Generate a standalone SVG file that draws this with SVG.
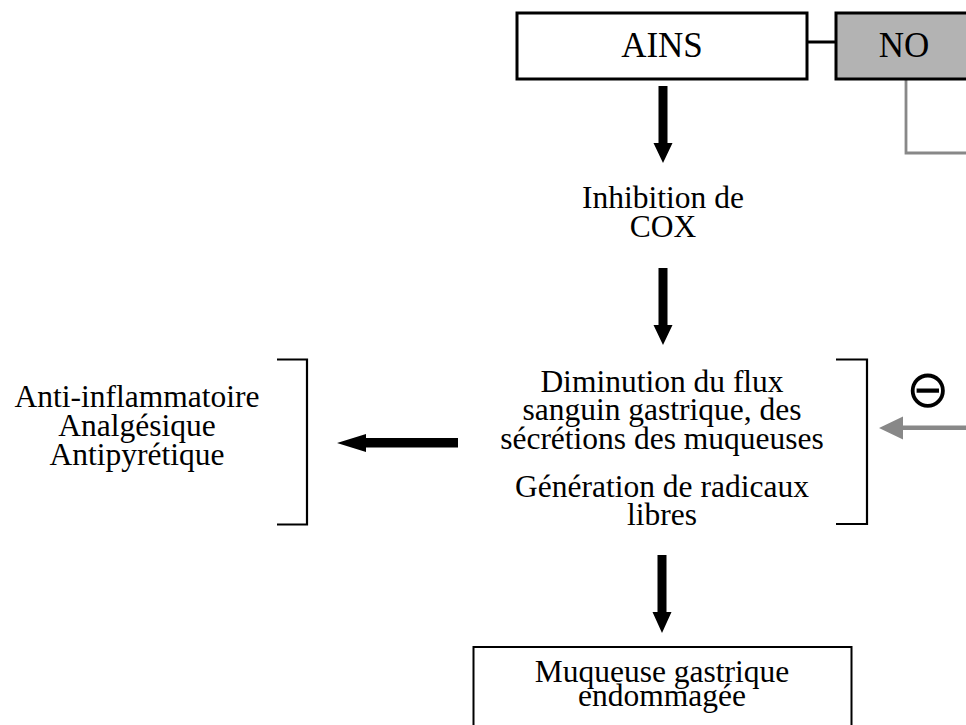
<svg xmlns="http://www.w3.org/2000/svg" width="966" height="725" viewBox="0 0 966 725">
  <style>
    .lbl { font-family: "Liberation Serif", "Times New Roman", serif; font-size: 31.5px; fill: #000; text-anchor: middle; }
    .big { font-size: 35px; }
    .box { fill: #fff; stroke: #000; stroke-width: 3; }
    .grey { fill: #b3b3b3; stroke: #000; stroke-width: 3; }
    .bracket { fill: none; stroke: #000; stroke-width: 2.2; }
    .arrow { fill: #000; }
    .garrow { fill: #888; }
  </style>
  <rect width="966" height="725" fill="#fff"/>

  <!-- connectors -->
  <g id="connectors">
    <line x1="807" y1="42" x2="836" y2="42" stroke="#000" stroke-width="3"/>
    <polyline points="906,79 906,153 966,153" fill="none" stroke="#888" stroke-width="2.8"/>
    <!-- AINS -> Inhibition -->
    <path class="arrow" d="M658.5,86 H667.5 V143 H672.5 L663,163 L653.5,143 H658.5 Z"/>
    <!-- Inhibition -> Diminution -->
    <path class="arrow" d="M658.5,268 H667.5 V325 H672.5 L663,345 L653.5,325 H658.5 Z"/>
    <!-- Diminution -> Muqueuse -->
    <path class="arrow" d="M657.5,555 H666.5 V612 H671.5 L662,633 L652.5,612 H657.5 Z"/>
    <!-- Diminution -> effects (left) -->
    <path class="arrow" d="M458,438 V447.5 H366 V452 L337,443 L366,434 V438 Z"/>
    <!-- NO inhibition (grey) -->
    <path class="garrow" d="M966,425.5 V430 H903 V439.5 L879,428 L903,416.5 V425.5 Z"/>
  </g>

  <g id="ains">
    <rect class="box" x="517" y="13" width="290" height="66"/>
    <text class="lbl big" x="662" y="57">AINS</text>
  </g>

  <g id="no">
    <rect class="grey" x="836" y="13" width="140" height="66"/>
    <text class="lbl big" x="904" y="57">NO</text>
  </g>

  <g id="inhibition">
    <text class="lbl" x="663" y="208">Inhibition de</text>
    <text class="lbl" x="663" y="236.5">COX</text>
  </g>

  <g id="effets">
    <text class="lbl" x="137" y="407">Anti-inflammatoire</text>
    <text class="lbl" x="137" y="436">Analgésique</text>
    <text class="lbl" x="137" y="465">Antipyrétique</text>
    <polyline class="bracket" points="277,359.5 307,359.5 307,524.5 277,524.5"/>
  </g>

  <g id="diminution">
    <text class="lbl" x="662" y="392">Diminution du flux</text>
    <text class="lbl" x="662" y="420">sanguin gastrique, des</text>
    <text class="lbl" x="662" y="449">sécrétions des muqueuses</text>
    <text class="lbl" x="662" y="497">Génération de radicaux</text>
    <text class="lbl" x="662" y="525">libres</text>
    <polyline class="bracket" points="836,359.5 867,359.5 867,524 836,524"/>
  </g>

  <g id="inhibition-no">
    <text x="928" y="407" font-family="DejaVu Sans, sans-serif" font-weight="200" font-size="52" text-anchor="middle" fill="#000">⊖</text>
  </g>

  <g id="muqueuse">
    <rect x="473.5" y="647" width="378" height="90" fill="#fff" stroke="#000" stroke-width="2"/>
    <text class="lbl" x="662" y="682">Muqueuse gastrique</text>
    <text class="lbl" x="662" y="706">endommagée</text>
  </g>
</svg>
